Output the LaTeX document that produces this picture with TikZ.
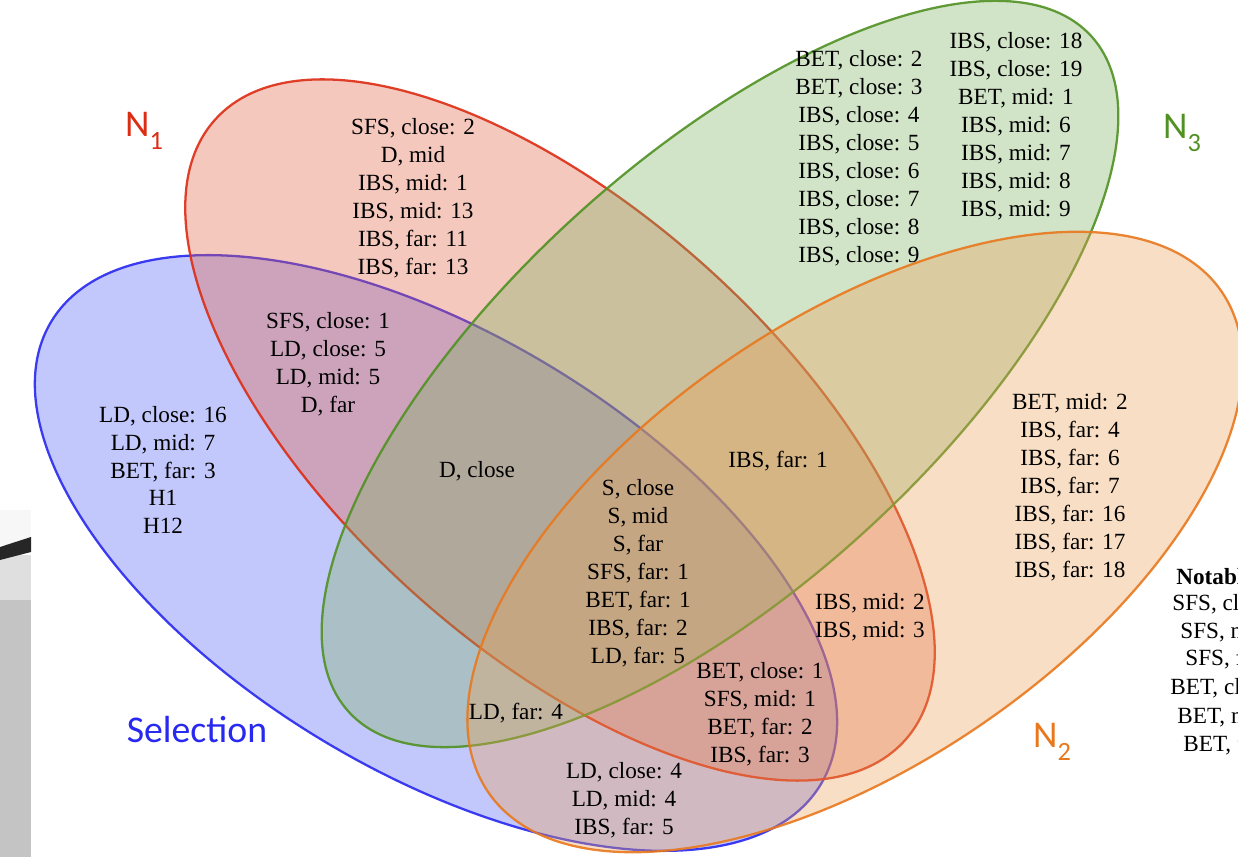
\documentclass[tikz,border=0pt]{standalone}
\usepackage{fontspec}
\setmainfont{Liberation Serif}
\newfontfamily\setfont{Carlito}
\definecolor{selfill}{RGB}{80,95,245}
\definecolor{selline}{RGB}{40,40,240}
\definecolor{nafill}{RGB}{226,98,69}
\definecolor{naline}{RGB}{220,45,20}
\definecolor{ncfill}{RGB}{126,178,98}
\definecolor{ncline}{RGB}{80,145,35}
\definecolor{nbfill}{RGB}{235,161,86}
\definecolor{nbline}{RGB}{232,120,30}
\definecolor{artgray}{RGB}{196,196,196}
\tikzset{
  venn/.style={fill opacity=0.35, draw opacity=0.9, line width=1.3pt},
  lbl/.style={align=center, inner sep=0pt, font=\fontsize{13.2}{15.9}\selectfont},
  setname/.style={inner sep=0pt, font=\setfont\fontsize{21.5}{24}\selectfont},
  notebox/.style={anchor=west, inner sep=0pt, font=\fontsize{13.2}{15.9}\selectfont}
}
\newcommand{\subidx}[1]{\raisebox{-0.33em}{\fontsize{15}{15}\selectfont #1}}
\begin{document}
\begin{tikzpicture}[x=0.02cm,y=-0.02cm]
\useasboundingbox (0,0) rectangle (1238,857);
\clip (0,0) rectangle (1238,857);
% scan artefact at the left edge
\fill[gray!6] (0,510) rectangle (31,545);
\fill[artgray] (0,600) rectangle (31,857);
\fill[gray!25] (0,555) rectangle (31,600);
\fill[black!85] (0,547) -- (31,537) -- (31,552) -- (0,560) -- cycle;
% ellipses
\begin{scope}[shift={(436,553)}, rotate=-31]
  \draw[venn, fill=selfill, draw=selline] (0,0) ellipse (449 and 219);
\end{scope}
\begin{scope}[shift={(560,430)}, rotate=-42]
  \draw[venn, fill=nafill, draw=naline] (0,0) ellipse (464 and 219);
\end{scope}
\begin{scope}[shift={(720,374)}, rotate=42.3]
  \draw[venn, fill=ncfill, draw=ncline] (0,0) ellipse (502 and 214);
\end{scope}
\begin{scope}[shift={(855,542)}, rotate=34.3]
  \draw[venn, fill=nbfill, draw=nbline] (0,0) ellipse (444 and 222);
\end{scope}
% set names
\node[setname, text=naline] (nOne) at (144,131) {N\subidx{1}};
\node[setname, text=ncline] (nThree) at (1182,133) {N\subidx{3}};
\node[setname, text=nbline] (nTwo) at (1052,742) {N\subidx{2}};
\node[setname, text=selline] (sel) at (197,730) {Selection};
% region labels
\node[lbl] (rN1) at (413,198) {SFS, close: 2\\D, mid\\IBS, mid: 1\\IBS, mid: 13\\IBS, far: 11\\IBS, far: 13};
\node[lbl] (rN3a) at (859,158) {BET, close: 2\\BET, close: 3\\IBS, close: 4\\IBS, close: 5\\IBS, close: 6\\IBS, close: 7\\IBS, close: 8\\IBS, close: 9};
\node[lbl] (rN3b) at (1016,126) {IBS, close: 18\\IBS, close: 19\\BET, mid: 1\\IBS, mid: 6\\IBS, mid: 7\\IBS, mid: 8\\IBS, mid: 9};
\node[lbl] (rSN1) at (328,364) {SFS, close: 1\\LD, close: 5\\LD, mid: 5\\D, far};
\node[lbl] (rS) at (163,470) {LD, close: 16\\LD, mid: 7\\BET, far: 3\\H1\\H12};
\node[lbl] (rDc) at (477,471) {D, close};
\node[lbl] (rIf1) at (778,461) {IBS, far: 1};
\node[lbl] (rN2) at (1070,487) {BET, mid: 2\\IBS, far: 4\\IBS, far: 6\\IBS, far: 7\\IBS, far: 16\\IBS, far: 17\\IBS, far: 18};
\node[lbl] (rAll) at (638,573) {S, close\\S, mid\\S, far\\SFS, far: 1\\BET, far: 1\\IBS, far: 2\\LD, far: 5};
\node[lbl] (rIm) at (870,617) {IBS, mid: 2\\IBS, mid: 3};
\node[lbl] (rLf4) at (516,713) {LD, far: 4};
\node[lbl] (rBc1) at (760,714) {BET, close: 1\\SFS, mid: 1\\BET, far: 2\\IBS, far: 3};
\node[lbl] (rLc4) at (624,800) {LD, close: 4\\LD, mid: 4\\IBS, far: 5};
% notable list, cut by the right edge
\node[notebox, font=\bfseries\fontsize{13.2}{15.9}\selectfont] (nt0) at (1176,577) {Notable};
\node[notebox] (nt1) at (1172,604) {SFS, close};
\node[notebox] (nt2) at (1180,632) {SFS, mid};
\node[notebox] (nt3) at (1185,659) {SFS, far};
\node[notebox] (nt4) at (1170,688) {BET, close};
\node[notebox] (nt5) at (1177,717) {BET, mid};
\node[notebox] (nt6) at (1183,745) {BET, far};
\end{tikzpicture}
\end{document}
